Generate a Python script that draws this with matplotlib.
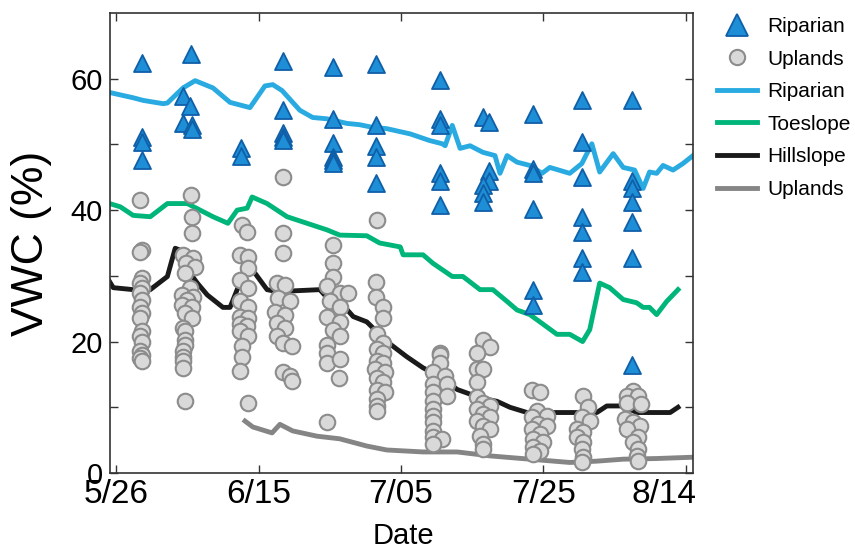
import matplotlib
matplotlib.use("Agg")
import matplotlib.pyplot as plt
from matplotlib.lines import Line2D
from matplotlib.transforms import ScaledTranslation

plt.rcParams["font.family"] = ["Liberation Sans", "DejaVu Sans"]

# x values are days after 5/26
tick_days = [0, 20, 40, 60, 80]
tick_labels = ["5/26", "6/15", "7/05", "7/25", "8/14"]

# Riparian point samples (triangles)
rip_day = [3.6, 3.6, 3.6, 3.6,
           10.5, 9.4, 10.4, 9.4, 10.7, 10.7,
           17.5, 17.5,
           23.4, 23.4, 23.4, 23.4, 23.4,
           30.5, 30.5, 30.5, 30.5, 30.5, 30.5,
           36.5, 36.5, 36.5, 36.5, 36.5,
           45.5, 45.5, 45.5, 45.5, 45.5, 45.5,
           51.5, 52.4, 52.4, 52.4, 51.5, 51.5, 51.5,
           58.5, 58.5, 58.5, 58.5, 58.5, 58.5,
           65.4, 65.4, 65.4, 65.4, 65.4, 65.4, 65.4,
           72.4, 72.4, 72.4, 72.4, 72.4, 72.4, 72.4]
rip_vwc = [62.4, 51.1, 50.3, 47.7,
           63.8, 57.4, 55.8, 53.2, 52.9, 52.4,
           49.5, 48.3,
           62.7, 55.3, 51.8, 51.1, 50.6,
           61.8, 53.9, 50.2, 48.1, 47.6, 47.1,
           62.3, 52.9, 49.7, 48.1, 44.1,
           59.8, 53.9, 52.9, 45.6, 44.5, 40.8,
           54.1, 53.4, 45.9, 44.5, 43.8, 42.6, 41.2,
           54.7, 46.3, 45.6, 40.1, 27.9, 25.6,
           56.7, 50.3, 45.0, 38.9, 36.7, 32.7, 30.6,
           56.7, 44.5, 43.3, 41.2, 38.2, 32.7, 16.5]

# Uplands point samples (circles)
upl_day = [3.4, 3.6, 3.4, 3.7, 3.4, 3.7, 3.4, 3.7, 3.4, 3.7, 3.4, 3.7, 3.4, 3.7, 3.4, 3.7, 3.4, 3.7,
           10.5, 10.7, 10.7, 9.4, 10.8, 9.8, 11.1, 9.7, 10.4, 9.3, 10.8, 10.0, 9.3, 10.7, 9.7, 10.7,
           9.4, 9.7, 9.7, 9.7, 9.4, 9.4, 9.4, 9.4, 9.7,
           17.7, 18.4, 17.4, 18.5, 18.5, 17.4, 18.5, 17.4, 18.5, 17.4, 18.5, 17.4, 18.4, 17.4,
           18.5, 17.7, 17.7, 17.4, 18.5,
           23.4, 23.4, 23.4, 22.6, 23.7, 22.7, 24.4, 22.3, 23.7, 22.6, 23.7, 22.6, 23.4, 24.7,
           23.4, 24.4, 24.7,
           30.5, 30.5, 30.5, 29.6, 31.4, 32.6, 30.0, 31.4, 29.6, 31.4, 30.5, 31.4, 29.6, 29.6,
           29.6, 31.4, 31.3, 29.6,
           36.6, 36.5, 36.5, 37.5, 37.5, 36.6, 37.5, 36.6, 37.5, 36.6, 37.5, 36.4, 37.8, 36.6,
           37.5, 36.6, 37.8, 36.6, 36.6, 36.6,
           45.5, 45.5, 45.5, 44.5, 46.2, 44.5, 46.5, 44.5, 46.5, 44.5, 44.5, 44.5, 44.5, 44.5,
           44.5, 45.8, 44.5,
           51.5, 52.5, 50.7, 50.7, 51.5, 50.7, 50.7, 51.5, 52.5, 50.7, 51.5, 52.5, 50.7, 51.5,
           52.5, 51.1, 51.5, 51.5,
           58.4, 59.5, 59.1, 60.5, 58.4, 59.2, 60.5, 58.4, 59.5, 58.5, 59.9, 58.5, 59.5, 58.5,
           65.5, 66.2, 65.4, 66.5, 64.7, 65.5, 64.7, 65.5, 65.4, 65.5, 65.4,
           72.6, 71.7, 73.3, 71.7, 73.7, 71.4, 72.6, 73.5, 71.7, 73.3, 72.6, 73.3, 73.1, 73.3]
upl_vwc = [41.5, 33.9, 33.7, 29.6, 28.9, 28.1, 27.4, 26.4, 25.3, 24.3, 23.6, 21.6, 20.8, 20.0, 18.5, 18.0, 17.5, 17.0,
           42.3, 38.9, 36.5, 33.2, 32.7, 32.0, 31.4, 30.4, 28.1, 27.1, 26.8, 26.4, 25.6, 25.2, 24.4, 23.6,
           22.1, 21.6, 20.3, 19.5, 18.5, 17.7, 17.0, 16.0, 10.9,
           37.7, 36.7, 33.2, 32.9, 31.2, 29.4, 28.1, 26.1, 25.2, 23.8, 23.6, 22.6, 22.3, 21.6,
           20.8, 19.3, 17.7, 15.5, 10.7,
           45.0, 36.5, 33.5, 28.9, 28.6, 26.7, 26.1, 24.5, 24.1, 22.8, 22.1, 20.8, 19.8, 19.3,
           15.3, 14.7, 14.0,
           34.7, 31.9, 29.9, 28.4, 27.4, 27.4, 26.1, 25.2, 23.8, 23.0, 21.8, 20.8, 19.5, 18.3,
           16.8, 17.3, 14.5, 7.7,
           38.5, 29.1, 26.8, 25.2, 23.6, 21.1, 19.8, 18.8, 18.3, 17.0, 16.8, 15.8, 15.3, 14.5,
           13.8, 12.7, 12.3, 11.2, 10.2, 9.4,
           18.3, 18.0, 16.8, 15.3, 14.7, 13.5, 13.5, 12.3, 11.7, 10.9, 9.7, 8.7, 7.7, 6.4,
           5.5, 5.2, 4.4,
           20.3, 19.1, 18.3, 15.8, 15.8, 13.8, 11.5, 10.7, 10.2, 9.7, 8.9, 8.5, 7.9, 7.1,
           6.7, 5.6, 4.4, 3.6,
           12.7, 12.3, 9.4, 8.7, 8.5, 7.4, 7.1, 6.7, 5.9, 5.2, 4.7, 3.9, 3.3, 2.9,
           11.7, 10.0, 8.5, 7.9, 6.7, 6.2, 5.5, 4.7, 3.6, 2.4, 1.7,
           12.4, 11.7, 11.7, 10.7, 10.5, 8.2, 7.7, 7.1, 6.7, 5.5, 4.7, 3.6, 2.6, 1.8]

# Continuous sensor records
riparian_day = [-0.9, 2.4, 3.8, 6.6, 7.2, 9.4, 11.1, 13.6, 16.0, 18.8, 20.9, 22.0, 23.3, 25.8,
                27.6, 29.6, 32.4, 34.2, 36.0, 38.0, 41.3, 44.0, 45.8, 46.2, 47.2, 48.3, 49.7,
                51.5, 53.2, 53.9, 54.9, 56.3, 58.1, 59.8, 60.9, 63.7, 65.4, 66.8, 67.9, 69.8,
                71.2, 72.8, 74.0, 74.9, 75.9, 76.8, 78.2, 79.6, 81.0]
riparian_vwc = [57.9, 57.1, 56.7, 56.2, 56.3, 58.6, 59.7, 58.6, 56.4, 55.6, 58.9, 59.1, 58.2, 55.2,
                54.1, 53.9, 53.2, 53.0, 52.6, 52.4, 51.6, 50.6, 50.1, 49.8, 52.9, 49.4, 49.8,
                48.8, 48.3, 45.6, 48.3, 47.3, 46.8, 45.6, 46.5, 45.6, 47.1, 50.1, 45.8, 48.6,
                46.5, 46.1, 43.3, 45.8, 45.6, 46.8, 46.1, 47.1, 48.3]

toe_day = [-0.9, 0.6, 2.4, 4.8, 7.2, 10.0, 11.8, 13.6, 15.7, 17.0, 18.4, 19.1, 21.2, 24.0, 26.8,
           29.6, 31.4, 35.2, 37.0, 39.9, 40.3, 43.1, 44.5, 47.2, 48.7, 51.1, 52.9, 54.9, 56.3,
           58.1, 59.5, 61.9, 63.7, 65.5, 66.5, 67.9, 69.3, 71.2, 73.1, 74.0, 74.9, 75.9, 77.3, 78.9]
toe_vwc = [41.0, 40.5, 39.2, 39.0, 41.0, 41.0, 40.0, 39.0, 38.0, 40.0, 40.3, 42.0, 41.0, 39.0, 38.0,
           37.0, 36.2, 36.1, 35.0, 34.4, 33.2, 33.2, 31.9, 29.9, 29.9, 27.9, 27.9, 26.1, 24.8,
           24.1, 23.0, 21.1, 21.1, 20.0, 21.8, 28.9, 28.2, 26.4, 25.9, 25.2, 25.2, 24.1, 26.1, 27.9]

hill_day = [-0.9, -0.4, 2.4, 4.8, 7.2, 8.3, 9.0, 10.4, 11.4, 12.8, 15.0, 16.0, 17.0, 18.1, 19.5,
            21.2, 22.6, 28.6, 29.6, 31.4, 33.3, 35.2, 36.6, 38.5, 40.8, 43.1, 45.5, 47.9, 49.7,
            52.1, 53.5, 55.3, 57.7, 61.9, 67.5, 68.9, 71.2, 73.1, 77.8, 78.9]
hill_vwc = [29.1, 28.2, 27.9, 27.9, 29.9, 34.2, 33.9, 30.4, 28.9, 27.1, 25.2, 25.2, 27.9, 31.4, 30.4,
            27.9, 27.6, 27.9, 26.7, 26.1, 23.8, 23.0, 21.5, 19.6, 17.7, 16.0, 14.7, 12.7, 12.0,
            11.2, 10.9, 10.0, 9.2, 9.2, 9.2, 10.2, 10.2, 9.2, 9.2, 10.0]

upl_line_day = [18.1, 19.2, 21.9, 23.0, 24.8, 28.2, 31.4, 35.2, 38.0, 43.1, 47.9, 52.5, 58.1,
                63.7, 67.5, 71.2, 75.9, 81.0]
upl_line_vwc = [7.9, 7.0, 6.1, 7.4, 6.4, 5.6, 5.2, 4.1, 3.5, 3.2, 3.2, 2.6, 2.1, 1.6, 1.8, 2.1,
                2.2, 2.4]

c_rip_line = "#29ABE2"
c_toe = "#00B57A"
c_hill = "#1A1A1A"
c_upl = "#858585"
c_tri_face = "#1E8FD6"
c_tri_edge = "#0F5FA8"
c_circ_face = "#D9D9D9"
c_circ_edge = "#8C8C8C"

fig = plt.figure(figsize=(8.55, 5.51), dpi=100)
ax = fig.add_axes([0.1287, 0.1416, 0.6818, 0.8348])

lw = 3.5
ax.plot(riparian_day, riparian_vwc, color=c_rip_line, lw=lw, zorder=2)
ax.plot(toe_day, toe_vwc, color=c_toe, lw=lw, zorder=2)
ax.plot(hill_day, hill_vwc, color=c_hill, lw=lw, zorder=2)
ax.plot(upl_line_day, upl_line_vwc, color=c_upl, lw=lw, zorder=2)

ax.scatter(upl_day, upl_vwc, s=125, marker="o", facecolor=c_circ_face,
           edgecolor=c_circ_edge, linewidth=1.5, zorder=3)
ax.scatter(rip_day, rip_vwc, s=150, marker="^", facecolor=c_tri_face,
           edgecolor=c_tri_edge, linewidth=1.3, zorder=4)

ax.set_xlim(-0.85, 81)
ax.set_ylim(0, 70)
ax.set_xticks(tick_days)
ax.set_xticklabels(tick_labels)
ax.set_yticks([0, 20, 40, 60])
ax.set_yticks([10, 30, 50], minor=True)
ax.tick_params(axis="both", which="both", direction="in", top=True, right=True,
               length=6, width=1.0, color="#333333")
ax.tick_params(axis="x", labelsize=24, pad=4)
ax.tick_params(axis="y", labelsize=21, pad=5)
for sp in ax.spines.values():
    sp.set_linewidth(1.2)
    sp.set_color("#333333")

# last date label sits left of its tick, as in the original
last = ax.get_xticklabels()[-1]
last.set_transform(last.get_transform() + ScaledTranslation(-0.22, 0, fig.dpi_scale_trans))

ax.set_ylabel("VWC (%)", fontsize=32, va="center")
ax.yaxis.set_label_coords(-0.1355, 0.5)
ax.set_xlabel("Date", fontsize=21, va="baseline")
ax.xaxis.set_label_coords(0.504, -0.155)

handles = [
    Line2D([], [], marker="^", ls="none", markersize=16, markerfacecolor=c_tri_face,
           markeredgecolor=c_tri_edge, markeredgewidth=1.3),
    Line2D([], [], marker="o", ls="none", markersize=11, markerfacecolor=c_circ_face,
           markeredgecolor=c_circ_edge, markeredgewidth=1.5),
    Line2D([], [], color=c_rip_line, lw=lw),
    Line2D([], [], color=c_toe, lw=lw),
    Line2D([], [], color=c_hill, lw=lw),
    Line2D([], [], color=c_upl, lw=lw),
]
labels = ["Riparian", "Uplands", "Riparian", "Toeslope", "Hillslope", "Uplands"]
fig.legend(handles, labels, loc="upper left", bbox_to_anchor=(0.829, 0.984),
           frameon=False, fontsize=15, handlelength=1.92, handletextpad=0.5,
           labelspacing=0.65, borderpad=0.4, borderaxespad=0)

fig.savefig("out.png", dpi=100)
